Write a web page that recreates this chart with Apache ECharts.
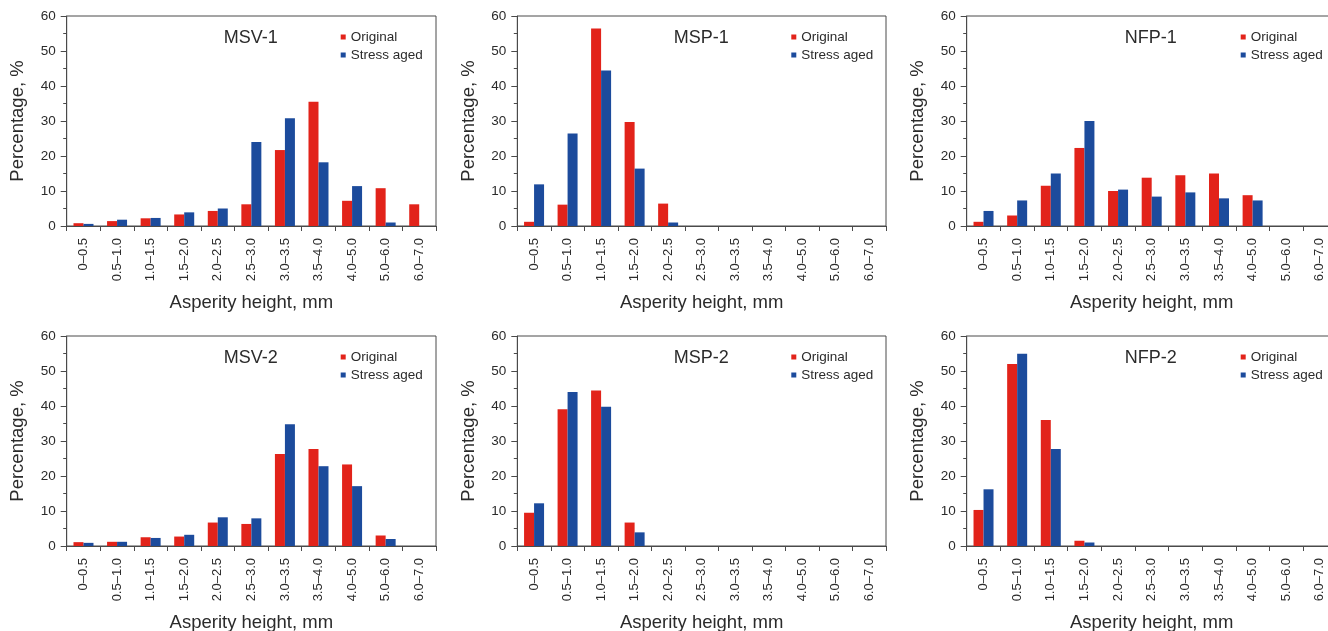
<!DOCTYPE html>
<html>
<head>
<meta charset="utf-8">
<script src="https://cdn.jsdelivr.net/npm/echarts@6/dist/echarts.min.js"></script>
<style>
html,body{margin:0;padding:0;background:#fff;overflow:hidden;}
#chart{width:1328px;height:631px;}
</style>
</head>
<body>
<div id="chart"></div>
<script>
// ---- data ----
const categories = ['0\u20130.5','0.5\u20131.0','1.0\u20131.5','1.5\u20132.0','2.0\u20132.5','2.5\u20133.0','3.0\u20133.5','3.5\u20134.0','4.0\u20135.0','5.0\u20136.0','6.0\u20137.0'];
const yTicks = [0, 10, 20, 30, 40, 50, 60];
const panelNames = ['MSV-1', 'MSP-1', 'NFP-1', 'MSV-2', 'MSP-2', 'NFP-2'];
const seriesNames = ['Original', 'Stress aged'];

const msv1Original = [0.8, 1.4, 2.2, 3.3, 4.3, 6.2, 21.7, 35.5, 7.2, 10.8, 6.2];
const msv1Stress   = [0.6, 1.8, 2.3, 3.9, 5.0, 24.0, 30.8, 18.2, 11.4, 1.0, 0];
const msp1Original = [1.2, 6.1, 56.4, 29.7, 6.4, 0, 0, 0, 0, 0, 0];
const msp1Stress   = [11.9, 26.4, 44.4, 16.4, 1.0, 0, 0, 0, 0, 0, 0];
const nfp1Original = [1.2, 3.0, 11.5, 22.3, 10.0, 13.8, 14.5, 15.0, 8.8, 0, 0];
const nfp1Stress   = [4.3, 7.3, 15.0, 30.0, 10.4, 8.4, 9.6, 7.9, 7.3, 0, 0];
const msv2Original = [1.1, 1.2, 2.5, 2.7, 6.7, 6.3, 26.3, 27.7, 23.3, 3.0, 0];
const msv2Stress   = [0.9, 1.2, 2.3, 3.2, 8.2, 7.9, 34.8, 22.8, 17.1, 2.0, 0];
const msp2Original = [9.5, 39.1, 44.4, 6.7, 0, 0, 0, 0, 0, 0, 0];
const msp2Stress   = [12.2, 44.0, 39.8, 3.9, 0, 0, 0, 0, 0, 0, 0];
const nfp2Original = [10.3, 52.0, 36.0, 1.5, 0, 0, 0, 0, 0, 0, 0];
const nfp2Stress   = [16.2, 54.9, 27.7, 1.0, 0, 0, 0, 0, 0, 0, 0];

const panelData = [
  [msv1Original, msv1Stress],
  [msp1Original, msp1Stress],
  [nfp1Original, nfp1Stress],
  [msv2Original, msv2Stress],
  [msp2Original, msp2Stress],
  [nfp2Original, nfp2Stress]
];

// ---- layout / style ----
const FONT = "'Liberation Sans', Arial, sans-serif";
const AXIS_COLOR = '#4a4a4a';
const TEXT_COLOR = '#2b2b2b';
const COLORS = ['#e2231a', '#1c4b9c'];
const lefts = [66.7, 517.3, 966.7];
const widths = [369.3, 368.7, 370];
const tops = [16, 336];
const H = 210;

const grids = [], xAxes = [], yAxes = [], series = [], titles = [], legends = [];
for (let p = 0; p < 6; p++) {
  const col = p % 3, row = Math.floor(p / 3);
  const left = lefts[col], top = tops[row], width = widths[col];
  grids.push({left: left, top: top, width: width, height: H, show: true, borderColor: AXIS_COLOR, borderWidth: 1, containLabel: false, outerBoundsMode: 'none'});
  xAxes.push({
    type: 'category', gridIndex: p, data: categories,
    axisLine: {show: true, lineStyle: {color: AXIS_COLOR, width: 1}},
    axisTick: {show: true, length: 5, lineStyle: {color: AXIS_COLOR}},
    axisLabel: {rotate: 90, margin: 12, fontSize: 13, color: TEXT_COLOR, fontFamily: FONT, interval: 0},
    name: 'Asperity height, mm', nameLocation: 'middle', nameGap: 67,
    nameTextStyle: {fontSize: 18.5, color: TEXT_COLOR, fontFamily: FONT}
  });
  yAxes.push({
    type: 'value', gridIndex: p, min: yTicks[0], max: yTicks[yTicks.length - 1], interval: yTicks[1] - yTicks[0],
    axisLine: {show: true, lineStyle: {color: AXIS_COLOR, width: 1}},
    axisTick: {show: true, length: 6, lineStyle: {color: AXIS_COLOR}},
    minorTick: {show: true, splitNumber: 2, length: 3.5, lineStyle: {color: AXIS_COLOR}},
    splitLine: {show: false},
    axisLabel: {margin: 11, fontSize: 13.5, color: TEXT_COLOR, fontFamily: FONT},
    name: 'Percentage, %', nameLocation: 'middle', nameGap: 39, nameRotate: 90,
    nameTextStyle: {fontSize: 18.5, color: TEXT_COLOR, fontFamily: FONT}
  });
  for (let s = 0; s < 2; s++) {
    series.push({
      type: 'bar', name: seriesNames[s], xAxisIndex: p, yAxisIndex: p,
      data: panelData[p][s], barWidth: 10, barGap: '0%',
      itemStyle: {color: COLORS[s]}, animation: false
    });
  }
  titles.push({
    text: panelNames[p], left: left + 184, top: top + 13, textAlign: 'center', padding: 0,
    textStyle: {fontSize: 18, fontWeight: 'normal', color: TEXT_COLOR, fontFamily: FONT}
  });
  legends.push({
    data: seriesNames, orient: 'vertical', left: left + 274, top: top + 14, padding: 0,
    itemWidth: 5, itemHeight: 5, itemGap: 4, icon: 'rect',
    textStyle: {fontSize: 13.5, color: TEXT_COLOR, fontFamily: FONT, lineHeight: 14}
  });
}

const chart = echarts.init(document.getElementById('chart'), null, {renderer: 'canvas'});
chart.setOption({
  animation: false,
  backgroundColor: '#ffffff',
  color: COLORS,
  title: titles,
  legend: legends,
  grid: grids,
  xAxis: xAxes,
  yAxis: yAxes,
  series: series
});
</script>
</body>
</html>
